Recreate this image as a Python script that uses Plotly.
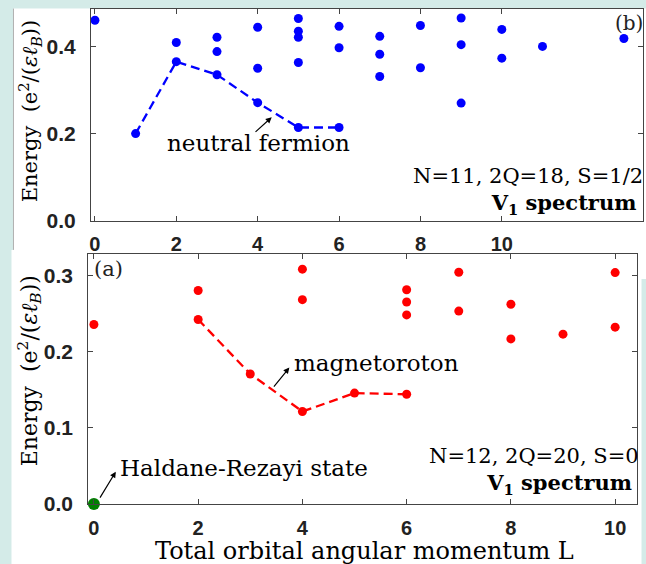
import plotly.graph_objects as go

W, H = 646, 564
K = 0.977  # observed vertical scale of the rendered page

# ---- panel (b): N=11, 2Q=18, S=1/2 ----
b_L = [0, 1, 2, 2, 3, 3, 3, 4, 4, 4, 5, 5, 5, 5, 5, 6, 6, 6, 7, 7, 7, 8, 8, 9, 9, 9, 10, 10, 11, 13]
b_E = [0.460, 0.200, 0.409, 0.365, 0.421, 0.388, 0.335, 0.444, 0.350, 0.271,
       0.464, 0.435, 0.421, 0.363, 0.214, 0.446, 0.397, 0.214, 0.423, 0.382,
       0.331, 0.448, 0.351, 0.465, 0.404, 0.270, 0.439, 0.373, 0.400, 0.418]
b_branch_L = [1, 2, 3, 4, 5, 6]
b_branch_E = [0.200, 0.365, 0.335, 0.271, 0.214, 0.214]

# ---- panel (a): N=12, 2Q=20, S=0 ----
a_L = [0, 2, 2, 3, 4, 4, 4, 5, 6, 6, 6, 6, 7, 7, 8, 8, 9, 10, 10]
a_E = [0.2355, 0.280, 0.242, 0.1706, 0.308, 0.268, 0.1214, 0.1455, 0.281, 0.265,
       0.248, 0.144, 0.304, 0.253, 0.262, 0.2166, 0.2228, 0.3035, 0.232]
a_branch_L = [2, 3, 4, 5, 6]
a_branch_E = [0.242, 0.1706, 0.1214, 0.1455, 0.144]
gs_L = [0]
gs_E = [0.0]

x_ticks = [0, 2, 4, 6, 8, 10]
b_y_ticks = [0.0, 0.2, 0.4]
a_y_ticks = [0.0, 0.1, 0.2, 0.3]

def px(x):
    return x / W

def py(y):
    return 1 - y / (H * K)

fig = go.Figure()

dash = "9px,5px"
fig.add_trace(go.Scatter(x=b_branch_L, y=b_branch_E, mode="lines",
                         line=dict(color="#0000ff", width=2.3, dash=dash),
                         xaxis="x", yaxis="y", hoverinfo="skip"))
fig.add_trace(go.Scatter(x=b_L, y=b_E, mode="markers",
                         marker=dict(color="#0000ff", size=9),
                         xaxis="x", yaxis="y", cliponaxis=False))
fig.add_trace(go.Scatter(x=a_branch_L, y=a_branch_E, mode="lines",
                         line=dict(color="#ff0000", width=2.3, dash=dash),
                         xaxis="x2", yaxis="y2", hoverinfo="skip"))
fig.add_trace(go.Scatter(x=a_L, y=a_E, mode="markers",
                         marker=dict(color="#ff0000", size=9),
                         xaxis="x2", yaxis="y2", cliponaxis=False))
fig.add_trace(go.Scatter(x=gs_L, y=gs_E, mode="markers",
                         marker=dict(color="#008000", size=12),
                         xaxis="x2", yaxis="y2", cliponaxis=False))

axis_common = dict(showline=True, linecolor="#444", linewidth=1, mirror="allticks",
                   ticks="inside", ticklen=5, tickcolor="#444", tickwidth=1,
                   showgrid=False, zeroline=False)
xfont = dict(family="Liberation Sans", size=20, color="#222", weight="bold")
yfont = dict(family="Liberation Sans", size=21, color="#222", weight="bold")

fig.update_layout(
    width=W, height=H,
    margin=dict(l=0, r=0, t=0, b=0),
    paper_bgcolor="#d4ebe8",
    plot_bgcolor="white",
    showlegend=False,
    xaxis=dict(axis_common, domain=[px(90), px(643)], range=[-0.1, 13.47],
               tickvals=x_ticks, anchor="y", ticklabelstandoff=5, tickfont=xfont),
    yaxis=dict(axis_common, domain=[py(220), py(9.3)], range=[0, 0.485],
               tickvals=b_y_ticks, tickformat=".1f", anchor="x", ticklabelstandoff=10,
               tickfont=yfont),
    xaxis2=dict(axis_common, domain=[px(87.3), px(636.5)], range=[-0.11, 10.41],
                tickvals=x_ticks, anchor="y2", ticklabelstandoff=6, tickfont=xfont),
    yaxis2=dict(axis_common, domain=[py(502.3), py(252.7)], range=[0, 0.3284],
                tickvals=a_y_ticks, tickformat=".1f", anchor="x2", ticklabelstandoff=10,
                tickfont=yfont),
)

# white panel backgrounds
fig.add_shape(type="rect", xref="paper", yref="paper", layer="below",
              x0=px(12), x1=1.02, y0=py(249), y1=py(8.5),
              fillcolor="white", line=dict(width=0))
fig.add_shape(type="rect", xref="paper", yref="paper", layer="below",
              x0=px(641), x1=1.02, y0=py(278), y1=py(249),
              fillcolor="white", line=dict(width=0))
fig.add_shape(type="line", xref="paper", yref="paper", layer="below",
              x0=px(12.5), x1=px(12.5), y0=py(249), y1=py(8.5),
              line=dict(color="#b0b0b0", width=1))
fig.add_shape(type="rect", xref="paper", yref="paper", layer="below",
              x0=px(10.5), x1=px(641.5), y0=-0.05, y1=py(249),
              fillcolor="white", line=dict(width=0))

serif = "DejaVu Serif"
tf = dict(family=serif, size=23, color="black")
cf = dict(family=serif, size=21, color="black")

ytitle = "Energy  (e<sup>2</sup>/(<i>εℓ</i><sub><i>B</i></sub>))"
fig.add_annotation(xref="paper", yref="paper", x=px(29), y=py(111), text=ytitle,
                   textangle=-90, showarrow=False, font=dict(family=serif, size=21, color="black"),
                   xanchor="center", yanchor="middle")
fig.add_annotation(xref="paper", yref="paper", x=px(29), y=py(369), text=ytitle,
                   textangle=-90, showarrow=False, font=dict(family=serif, size=22, color="black"),
                   xanchor="center", yanchor="middle")
fig.add_annotation(xref="paper", yref="paper", x=px(364), y=py(549),
                   text="Total orbital angular momentum L", showarrow=False,
                   font=dict(family=serif, size=24, color="black"),
                   xanchor="center", yanchor="middle")

# panel labels
fig.add_annotation(xref="paper", yref="paper", x=px(645), y=py(23), text="(b)",
                   showarrow=False, font=dict(family=serif, size=20, color="#222"),
                   xanchor="right", yanchor="middle")
fig.add_annotation(xref="paper", yref="paper", x=px(91), y=py(268), text="(a)",
                   showarrow=False, font=dict(family=serif, size=21, color="#222"),
                   xanchor="left", yanchor="middle")

# info labels
fig.add_annotation(xref="paper", yref="paper", x=px(645), y=py(190),
                   text="N=11, 2Q=18, S=1/2<br><b>V<sub>1</sub> spectrum</b>\u00a0",
                   showarrow=False, font=cf, align="right",
                   xanchor="right", yanchor="middle")
fig.add_annotation(xref="paper", yref="paper", x=px(641), y=py(469),
                   text="N=12, 2Q=20, S=0<br><b>V<sub>1</sub> spectrum</b>\u00a0",
                   showarrow=False, font=cf, align="right",
                   xanchor="right", yanchor="middle")

# annotated branches
fig.add_annotation(xref="x", yref="y", x=4.02, y=0.178, text="neutral fermion",
                   showarrow=False, font=tf, xanchor="center", yanchor="middle")
fig.add_annotation(xref="x", yref="y", axref="x", ayref="y", x=4.345, y=0.2376,
                   ax=3.91, ay=0.2007, text="", showarrow=True, arrowhead=2,
                   arrowsize=1, arrowwidth=1.2, arrowcolor="black")
fig.add_annotation(xref="x2", yref="y2", x=3.81, y=0.185, text="magnetoroton",
                   showarrow=False, font=tf, xanchor="left", yanchor="middle")
fig.add_annotation(xref="x2", yref="y2", axref="x2", ayref="y2", x=3.75, y=0.179,
                   ax=3.43, ay=0.152, text="", showarrow=True, arrowhead=2,
                   arrowsize=1, arrowwidth=1.2, arrowcolor="black")
fig.add_annotation(xref="x2", yref="y2", x=0.455, y=0.0468, text="Haldane-Rezayi state",
                   showarrow=False, font=tf, xanchor="left", yanchor="middle")
fig.add_annotation(xref="x2", yref="y2", axref="x2", ayref="y2", x=0.42, y=0.0425,
                   ax=0.10, ay=0.0066, text="", showarrow=True, arrowhead=2,
                   arrowsize=1, arrowwidth=1.2, arrowcolor="black")

fig.write_html("out.html")
